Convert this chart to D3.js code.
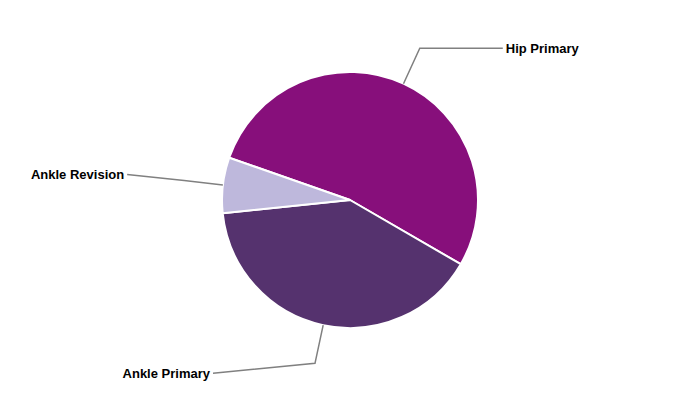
<!DOCTYPE html>
<html>
<head>
<meta charset="utf-8">
<script src="https://cdn.jsdelivr.net/npm/d3@7"></script>
<style>
  body { margin: 0; background: #fff; }
  svg { display: block; }
  text { font-family: "Liberation Sans", Arial, sans-serif; font-weight: bold; font-size: 13px; fill: #000; }
</style>
</head>
<body>
<svg id="chart" width="700" height="400"></svg>
<script>
// Data
const categories = ["Hip Primary", "Ankle Primary", "Ankle Revision"];
const values = [53, 40, 7];
const colors = ["#870F7B", "#55326E", "#BEB8DC"];

// Layout (not data)
const cx = 350, cy = 200, radius = 128, elbowR = 167;
const startDeg = -70.7;
// label anchor offsets relative to the elbow point, and text anchor side
const labelLayout = [
  { dx: 83, dy: 0, anchor: "start", gap: 3 },
  { dx: -102, dy: 10, anchor: "end", gap: -3 },
  { dx: -57, dy: -6, anchor: "end", gap: -3 }
];

const svg = d3.select("#chart");
const g = svg.append("g").attr("transform", `translate(${cx},${cy})`);

const pie = d3.pie().sort(null).value(d => d.v)
  .startAngle(startDeg * Math.PI / 180)
  .endAngle(startDeg * Math.PI / 180 + 2 * Math.PI);
const data = categories.map((c, i) => ({ c, v: values[i], i }));
const arcs = pie(data);
const arc = d3.arc().innerRadius(0).outerRadius(radius);

g.selectAll("path.slice").data(arcs).enter().append("path")
  .attr("class", "slice")
  .attr("d", arc)
  .attr("fill", d => colors[d.data.i])
  .attr("stroke", "#fff")
  .attr("stroke-width", 2)
  .attr("stroke-linejoin", "round");

function polar(r, a) { return [r * Math.sin(a), -r * Math.cos(a)]; }

arcs.forEach(d => {
  const mid = (d.startAngle + d.endAngle) / 2;
  const p0 = polar(radius, mid);
  const p1 = polar(elbowR, mid);
  const L = labelLayout[d.data.i];
  const p2 = [p1[0] + L.dx, p1[1] + L.dy];
  g.append("path")
    .attr("d", d3.line()([p0, p1, p2]))
    .attr("fill", "none")
    .attr("stroke", "#808080")
    .attr("stroke-width", 1.5);
  g.append("text")
    .attr("x", p2[0] + L.gap)
    .attr("y", p2[1])
    .attr("dy", "0.35em")
    .attr("text-anchor", L.anchor)
    .text(d.data.c);
});
</script>
</body>
</html>
